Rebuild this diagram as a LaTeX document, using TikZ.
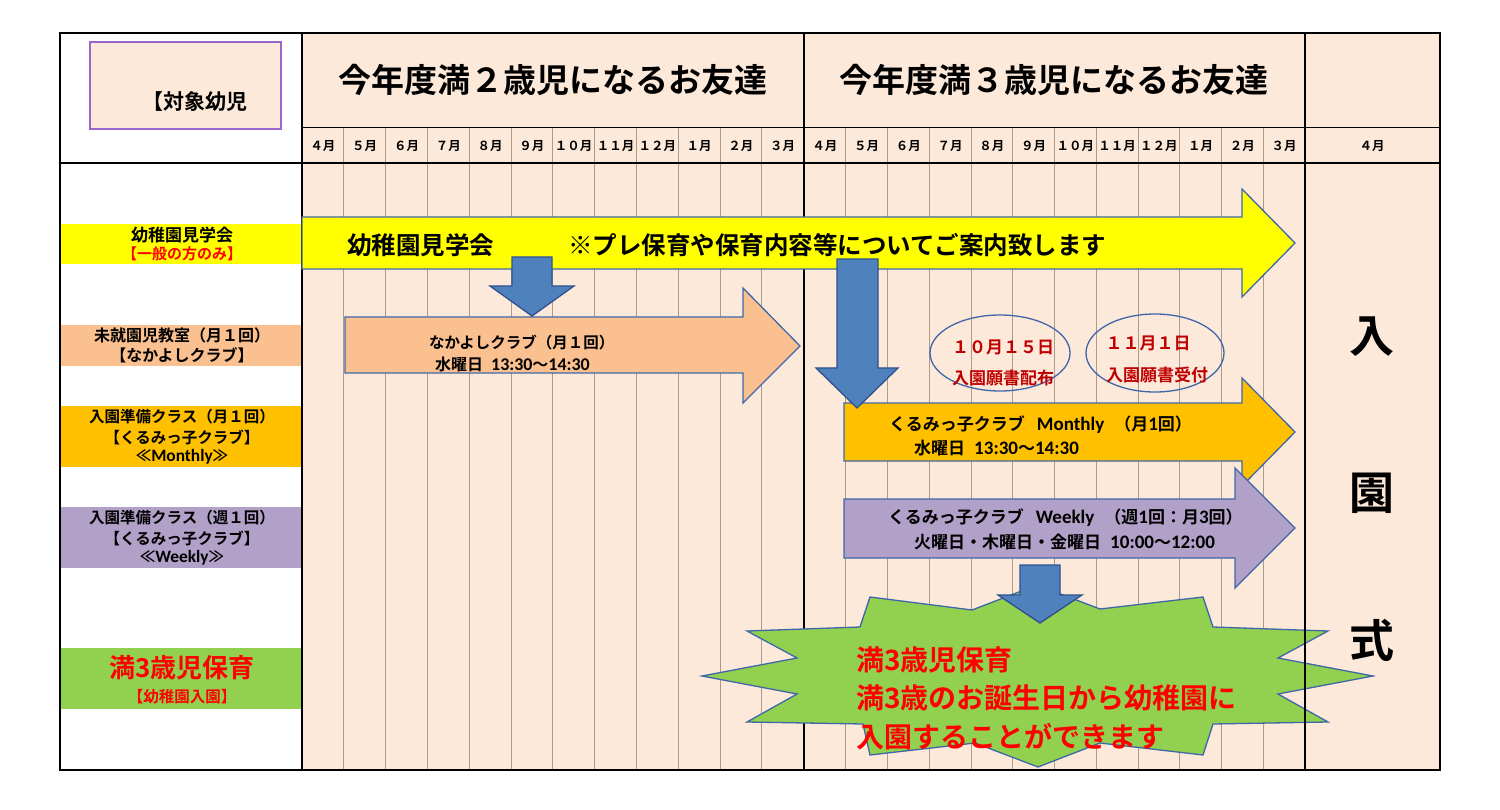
\documentclass[tikz,border=0pt]{standalone}
\usepackage{fontspec}
\setmainfont{Noto Sans CJK JP}[BoldFont={* Bold}]
\newfontfamily\latf{Carlito}[Scale=1.12]
\newcommand\fsz[1]{\fontsize{#1}{#1}\selectfont}
\definecolor{bgpeach}{HTML}{FDE9D9}
\definecolor{gridc}{RGB}{170,155,140}
\definecolor{bandY}{HTML}{FFFF00}
\definecolor{bandP}{HTML}{FAC090}
\definecolor{bandO}{HTML}{FFC000}
\definecolor{bandV}{HTML}{B1A0C7}
\definecolor{bandG}{HTML}{92D050}
\definecolor{blueA}{HTML}{4F81BD}
\definecolor{blueE}{HTML}{2F528F}
\definecolor{edgeA}{HTML}{3F67A8}
\definecolor{boxpur}{HTML}{9966CC}
\definecolor{dred}{HTML}{C00000}
\definecolor{bred}{HTML}{FF0000}
\begin{document}
\begin{tikzpicture}[x=1pt,y=-1pt,
  txt/.style={inner sep=0pt, font=\bfseries},
  blk/.style={draw=edgeA, line width=1.3pt, line join=miter},
  bluearr/.style={fill=blueA, draw=blueE, line width=1.3pt, line join=miter},
  thick/.style={line width=2.6pt},
  thin/.style={draw=gridc, line width=0.9pt}]
\useasboundingbox (0,0) rectangle (1500,810);
\fill[white] (0,0) rectangle (1500,810);
% backgrounds
\fill[bgpeach] (302,33) rectangle (1440,770);
% thin grid
\foreach \i in {1,...,11}{
  \draw[thin] ({302+41.8*\i},128) -- ({302+41.8*\i},770);
  \draw[thin] ({804+41.75*\i},128) -- ({804+41.75*\i},770);
}
\draw[line width=1pt] (302,128) -- (1440,128);
% header box
\draw[fill=bgpeach, draw=boxpur, line width=1.8pt] (90,42) rectangle (281,129);
\node[txt, anchor=west, font=\bfseries\fsz{21}] (target) at (142,102) {【対象幼児};
% titles
\node[txt, font=\bfseries\fsz{33}] (title1) at (553,80) {今年度満２歳児になるお友達};
\node[txt, font=\bfseries\fsz{33}] (title2) at (1054,80) {今年度満３歳児になるお友達};
% months
\foreach \m [count=\i from 0] in {４月,５月,６月,７月,８月,９月,１０月,１１月,１２月,１月,２月,３月}{
  \node[txt, font=\bfseries\fsz{12.5}] (ma\i) at ({302+41.8*(\i+0.5)},146) {\m};
  \node[txt, font=\bfseries\fsz{12.5}] (mb\i) at ({804+41.75*(\i+0.5)},146) {\m};
}
\node[txt, font=\bfseries\fsz{12.5}] (mc) at (1372,146) {４月};
% left bands
\fill[bandY] (61,224) rectangle (302,264);
\fill[bandP] (61,325) rectangle (302,366);
\fill[bandO] (61,406) rectangle (302,467);
\fill[bandV] (61,507) rectangle (302,568);
\fill[bandG] (61,648) rectangle (302,709);
\node[txt, font=\bfseries\fsz{17}] (l1a) at (182,235) {幼稚園見学会};
\node[txt, font=\bfseries\fsz{15}, text=bred] (l1b) at (182,254) {【一般の方のみ】};
\node[txt, font=\bfseries\fsz{16}] (l2a) at (182,335) {未就園児教室（月１回）};
\node[txt, font=\bfseries\fsz{16}] (l2b) at (182,355) {【なかよしクラブ】};
\node[txt, font=\bfseries\fsz{15.5}] (l3a) at (182,417) {入園準備クラス（月１回）};
\node[txt, font=\bfseries\fsz{15.5}] (l3b) at (182,437) {【くるみっ子クラブ】};
\node[txt, font=\bfseries\fsz{15.5}] (l3c) at (182,457) {≪{\latf Monthly}≫};
\node[txt, font=\bfseries\fsz{15.5}] (l4a) at (182,518) {入園準備クラス（週１回）};
\node[txt, font=\bfseries\fsz{15.5}] (l4b) at (182,538) {【くるみっ子クラブ】};
\node[txt, font=\bfseries\fsz{15.5}] (l4c) at (182,558) {≪{\latf Weekly}≫};
\node[txt, font=\bfseries\fsz{26}, text=bred] (l5a) at (182,668) {満3歳児保育};
\node[txt, font=\bfseries\fsz{15.5}, text=bred] (l5b) at (182,697) {【幼稚園入園】};
% table lines that lie under the shapes
\draw[thick] (60,163) -- (1440,163);
\draw[thick] (302,33) -- (302,770);
\draw[thick] (804,33) -- (804,770);
% block arrows
\draw[blk, fill=bandY] (302,217) -- (1242,217) -- (1242,189) -- (1295,243) -- (1242,297) -- (1242,269) -- (302,269) -- cycle;
\draw[blk, fill=bandP] (345,317) -- (743,317) -- (743,288) -- (800,346) -- (743,403) -- (743,373) -- (345,373) -- cycle;
\draw[blk, fill=bandO] (844,403) -- (1242,403) -- (1242,378) -- (1295,432) -- (1242,486) -- (1242,461) -- (844,461) -- cycle;
\draw[blk, fill=bandV] (844,499) -- (1235,499) -- (1235,468) -- (1295,528) -- (1235,588) -- (1235,558) -- (844,558) -- cycle;
\draw[bluearr] (512,257) -- (552,257) -- (552,286) -- (574,286) -- (532,316) -- (490,286) -- (512,286) -- cycle;
\draw[bluearr] (837,259) -- (878,259) -- (878,368) -- (898,368) -- (857,408) -- (816,368) -- (837,368) -- cycle;
% starburst
\draw[blk, fill=bandG] (870,597) -- (972,610) -- (1037,585) -- (1100,609) -- (1203,597) -- (1213,627) -- (1328,631) -- (1278,658) -- (1373,676) -- (1278,694) -- (1328,722) -- (1213,724) -- (1203,755) -- (1100,743) -- (1038,767) -- (975,743) -- (870,755) -- (863,724) -- (747,722) -- (797,694) -- (702,676) -- (797,658) -- (747,631) -- (860,627) -- cycle;
\draw[bluearr] (1020,565) -- (1060,565) -- (1060,595) -- (1082,595) -- (1040,623) -- (998,595) -- (1020,595) -- cycle;
% ellipses
\draw[draw=edgeA, line width=1.3pt] (1000,353) ellipse [x radius=70, y radius=38];
\draw[draw=edgeA, line width=1.3pt] (1155,353) ellipse [x radius=69, y radius=39];
\node[txt, font=\bfseries\fsz{17}, text=dred] (e1a) at (1003,347) {１０月１５日};
\node[txt, font=\bfseries\fsz{17}, text=dred] (e1b) at (1003,378) {入園願書配布};
\node[txt, font=\bfseries\fsz{17}, text=dred] (e2a) at (1148,343) {１１月１日};
\node[txt, font=\bfseries\fsz{17}, text=dred] (e2b) at (1157,375) {入園願書受付};
% arrow texts
\node[txt, anchor=west, font=\bfseries\fsz{24.5}] (y1) at (347,245) {幼稚園見学会};
\node[txt, anchor=west, font=\bfseries\fsz{24.5}] (y2) at (568,245) {※プレ保育や保育内容等についてご案内致します};
\node[txt, anchor=west, font=\bfseries\fsz{15.5}] (p1) at (429,343) {なかよしクラブ（月１回）};
\node[txt, anchor=west, font=\bfseries\fsz{16}] (p2) at (435,364) {水曜日\hspace{8pt}{\latf 13:30}～{\latf 14:30}};
\node[txt, anchor=west, font=\bfseries\fsz{17}] (o1) at (889,425) {くるみっ子クラブ\hspace{12pt}{\latf Monthly}\hspace{10pt}（月{\latf 1}回）};
\node[txt, anchor=west, font=\bfseries\fsz{17}] (o2) at (914,448) {水曜日\hspace{9pt}{\latf 13:30}～{\latf 14:30}};
\node[txt, anchor=west, font=\bfseries\fsz{17}] (v1) at (888,518) {くるみっ子クラブ\hspace{12pt}{\latf Weekly}\hspace{10pt}（週{\latf 1}回：月{\latf 3}回）};
\node[txt, anchor=west, font=\bfseries\fsz{17}] (v2) at (914,542) {火曜日・木曜日・金曜日\hspace{9pt}{\latf 10:00}～{\latf 12:00}};
% starburst text
\node[txt, anchor=west, font=\bfseries\fsz{28}, text=bred] (s1) at (856,660) {満3歳児保育};
\node[txt, anchor=west, font=\bfseries\fsz{28}, text=bred] (s2) at (856,698) {満3歳のお誕生日から幼稚園に};
\node[txt, anchor=west, font=\bfseries\fsz{28}, text=bred] (s3) at (856,737) {入園することができます};
% entrance ceremony
\node[txt, font=\bfseries\fsz{45}] (k1) at (1372,337) {入};
\node[txt, font=\bfseries\fsz{45}] (k2) at (1372,493) {園};
\node[txt, font=\bfseries\fsz{45}] (k3) at (1372,640) {式};
% table lines on top
\draw[thick] (60,33) rectangle (1440,770);
\draw[thick] (1305,33) -- (1305,770);
\end{tikzpicture}
\end{document}
